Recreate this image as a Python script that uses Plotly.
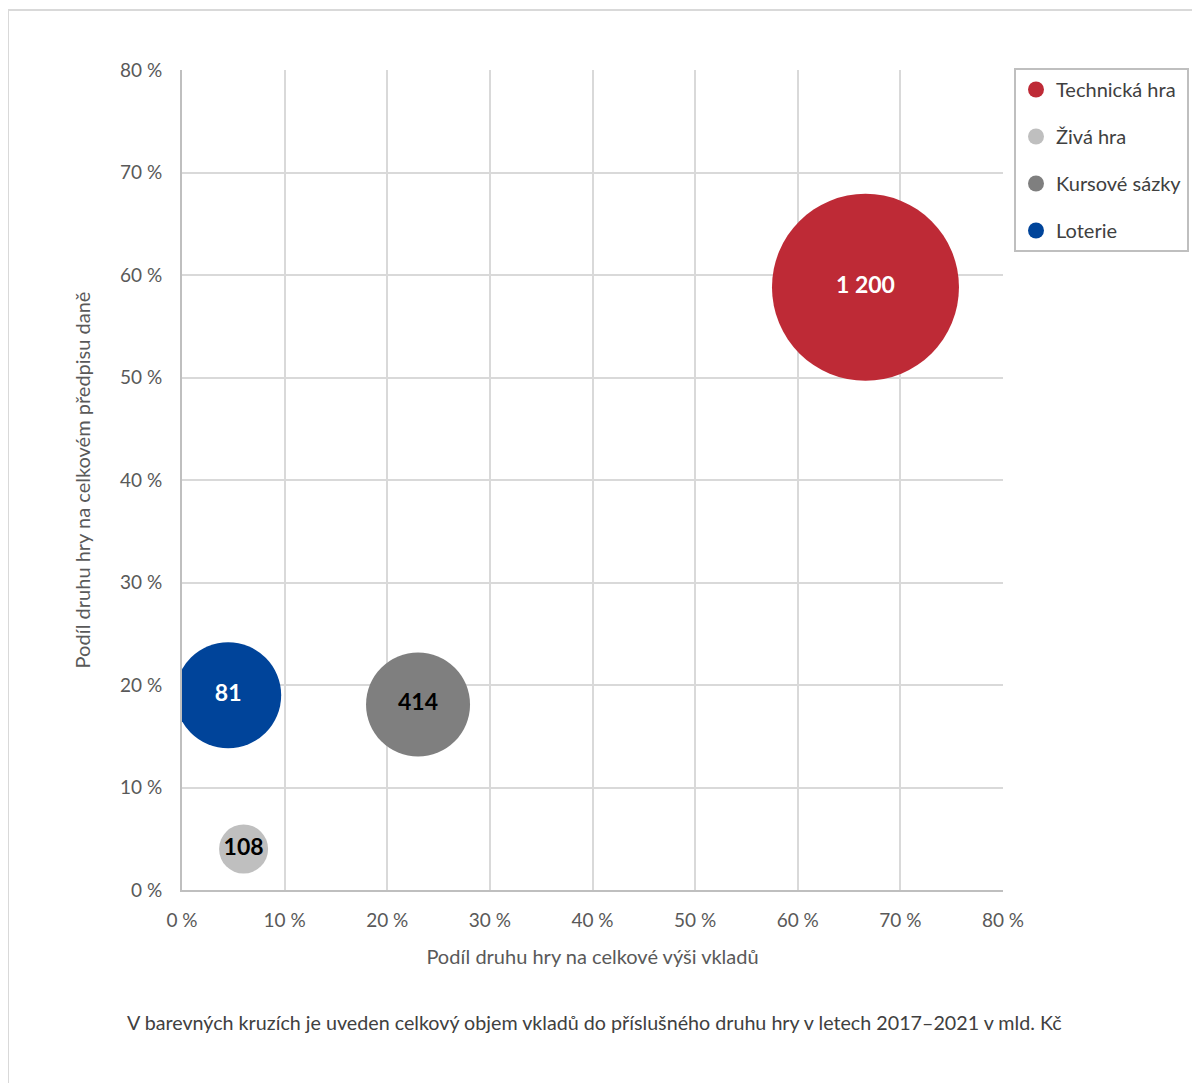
import plotly.graph_objects as go

# ---- data ----
categories = ["Technická hra", "Živá hra", "Kursové sázky", "Loterie"]
share_deposits = [66.6, 6.0, 23.0, 4.5]        # x, % of total deposits
share_tax = [58.8, 4.0, 18.1, 19.0]            # y, % of total tax
volume_labels = ["1 200", "108", "414", "81"]  # mld. Kč (text in bubbles)
bubble_size = [187, 49, 104, 106]              # relative bubble size
colors = ["#BE2A36", "#BFBFBF", "#7F7F7F", "#00449A"]
label_colors = ["white", "black", "black", "white"]
x_ticks = [0, 10, 20, 30, 40, 50, 60, 70, 80]
y_ticks = [0, 10, 20, 30, 40, 50, 60, 70, 80]

FONT = "Lato"
OFF = 8  # browser body margin
W, H = 1200 - OFF, 1083 - OFF
L, T = 182 - OFF, 70 - OFF
R = W - (1003 - OFF)
B = H - (890 - OFF)
pw, ph = W - L - R, H - T - B

def px_x(x):
    return (x - OFF - L) / pw

def px_y(y):
    return (H - B - (y - OFF)) / ph

fig = go.Figure()
for i, c in enumerate(categories):
    fig.add_trace(go.Scatter(
        x=[share_deposits[i]], y=[share_tax[i]],
        mode="markers+text",
        name=c,
        text=[volume_labels[i]],
        textposition="middle center",
        textfont=dict(family=FONT, size=23, color=label_colors[i], weight="bold"),
        marker=dict(size=[bubble_size[i]], sizemode="diameter", sizeref=1,
                    color=colors[i], line=dict(width=0), opacity=1),
        cliponaxis=True,
        legendgroup=c,
        hoverinfo="skip",
    ))

fig.update_layout(
    width=W, height=H,
    margin=dict(l=L, r=R, t=T, b=B, autoexpand=False),
    paper_bgcolor="white", plot_bgcolor="white",
    font=dict(family=FONT, size=19, color="#595959"),
    showlegend=True,
    legend=dict(
        x=px_x(1014), y=px_y(68), xanchor="left", yanchor="top",
        bordercolor="#BFBFBF", borderwidth=2, bgcolor="white",
        font=dict(family=FONT, size=20, color="#404040"),
        itemsizing="trace", tracegroupgap=18,
    ),
    xaxis=dict(
        range=[0, 80], tickvals=x_ticks, ticktext=[f"{v} %" for v in x_ticks],
        showgrid=True, gridcolor="#D9D9D9", gridwidth=2,
        zeroline=False, showline=True, linecolor="#BFBFBF", linewidth=2,
        ticks="", ticklabelstandoff=12,
        title=dict(text="Podíl druhu hry na celkové výši vkladů",
                   font=dict(family=FONT, size=20, color="#595959"), standoff=20),
        fixedrange=True,
    ),
    yaxis=dict(
        range=[0, 80], tickvals=y_ticks, ticktext=[f"{v} %" for v in y_ticks],
        showgrid=True, gridcolor="#D9D9D9", gridwidth=2,
        zeroline=False, showline=True, linecolor="#BFBFBF", linewidth=2,
        ticks="", ticklabelstandoff=14,
        title=dict(text="Podíl druhu hry na celkovém předpisu daně",
                   font=dict(family=FONT, size=20, color="#595959"), standoff=24),
        fixedrange=True,
    ),
    shapes=[
        dict(type="rect", xref="paper", yref="paper",
             x0=px_x(8), x1=px_x(1210), y0=px_y(10), y1=px_y(1095),
             line=dict(color="#D9D9D9", width=2), fillcolor="rgba(0,0,0,0)",
             layer="below"),
    ],
    annotations=[
        dict(text="V barevných kruzích je uveden celkový objem vkladů do příslušného druhu hry v letech 2017–2021 v mld. Kč",
             xref="paper", yref="paper", x=px_x(594), y=px_y(1023),
             xanchor="center", yanchor="middle", showarrow=False,
             font=dict(family=FONT, size=19.7, color="#404040")),
    ],
)

fig.write_html("out.html")
